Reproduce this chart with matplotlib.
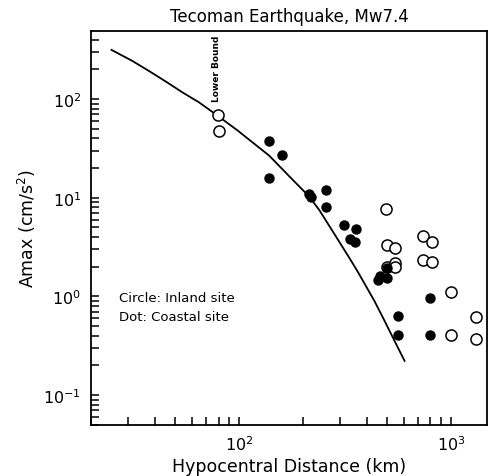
import numpy as np
import matplotlib
matplotlib.use("Agg")
import matplotlib.pyplot as plt

# lower bound curve
curve_dist = [25.0, 31.3, 37.5, 45.0, 54.0, 64.7, 77.6, 98.2, 138.7, 172.5, 214, 239, 276, 332, 363, 398, 435, 476, 522, 571, 604]
curve_amax = [315, 244, 193, 151, 117, 92.6, 70.0, 48.2, 26.7, 16.5, 10.3, 7.5, 4.6, 2.44, 1.78, 1.26, 0.90, 0.617, 0.415, 0.282, 0.222]

# inland sites (open circles)
inland_dist = [79.6, 80.5, 492, 500, 547, 737, 817, 737, 817, 500, 547, 547, 1000, 1309, 1000, 1309]
inland_amax = [69.4, 47.1, 7.6, 3.3, 3.1, 4.08, 3.55, 2.31, 2.25, 2.0, 2.2, 2.0, 1.12, 0.622, 0.409, 0.366]

# coastal sites (filled dots)
coastal_dist = [139, 160, 139, 214, 219, 258, 258, 312, 355, 335, 352, 498, 452, 460, 498, 564, 564, 793, 793]
coastal_amax = [37.8, 27.1, 15.8, 10.9, 10.1, 12.1, 8.07, 5.30, 4.81, 3.78, 3.53, 1.93, 1.45, 1.60, 1.53, 0.632, 0.402, 0.962, 0.402]

fig = plt.figure(figsize=(4.89, 4.77), dpi=100)
ax = fig.add_axes([0.186, 0.1075, 0.81, 0.8255])

ax.plot(curve_dist, curve_amax, color="black", lw=1.3, solid_joinstyle="round")
ax.plot(inland_dist, inland_amax, "o", ms=8, mfc="white", mec="black", mew=1.1, ls="none")
ax.plot(coastal_dist, coastal_amax, "o", ms=6.5, mfc="black", mec="black", ls="none")

ax.set_xscale("log")
ax.set_yscale("log")
ax.set_xlim(20, 1480)
ax.set_ylim(0.05, 490)

ax.tick_params(which="both", direction="in", top=False, right=False, width=1.1, labelsize=11.5, pad=7)
ax.tick_params(which="major", length=6)
ax.tick_params(which="minor", length=6)
for s in ax.spines.values():
    s.set_linewidth(1.3)

ax.set_title("Tecoman Earthquake, Mw7.4", fontsize=12, pad=7)
ax.set_xlabel("Hypocentral Distance (km)", fontsize=12.5, labelpad=3)
ax.set_ylabel("Amax (cm/s$^2$)", fontsize=12.5, labelpad=4)

ax.text(78, 95, "Lower Bound", rotation=90, ha="center", va="bottom", fontsize=6.5, fontweight="bold")
ax.text(27, 0.97, "Circle: Inland site", ha="left", va="center", fontsize=9.5)
ax.text(27, 0.63, "Dot: Coastal site", ha="left", va="center", fontsize=9.5)

fig.savefig("out.png", dpi=100)
